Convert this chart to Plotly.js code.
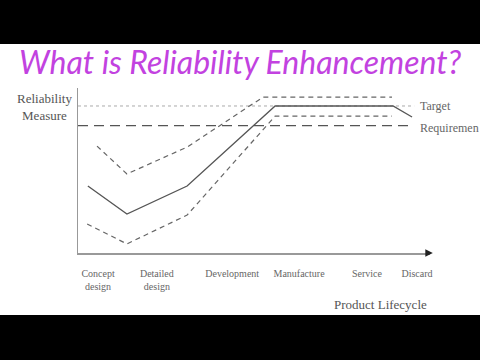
<!DOCTYPE html>
<html>
<head>
<meta charset="utf-8">
<script src="https://cdn.plot.ly/plotly-3.0.1.min.js"></script>
<style>html,body{margin:0;padding:0;background:#fff;}#chart{width:480px;height:360px;}</style>
</head>
<body>
<div id="chart"></div>
<script>
// Product lifecycle stages (tick positions along the lifecycle axis, 0-100)
const stages = ["Concept<br>design", "Detailed<br>design", "Development", "Manufacture", "Service", "Discard"];
const stagePos = [5.7, 22.4, 43.8, 62.8, 82.1, 96.3];

// Reliability measure curves (0-100 scale)
const solidX = [2.8, 13.9, 31, 56, 89.5, 94.9];
const solidY = [40.6, 23.6, 40.6, 89.1, 89.1, 82.4];
const upperX = [5.4, 13.9, 31, 52.6, 89.2];
const upperY = [64.8, 47.9, 64.2, 94.5, 94.5];
const lowerX = [2.6, 13.9, 31, 56, 89.2];
const lowerY = [17.6, 5.5, 23.0, 83.0, 83.0];

const targetLevel = 89.1;
const requirementLevel = 77.2;
const levelX = [0, 95.5];

const serif = "Liberation Serif, Times New Roman, serif";

const traces = [
  {x: levelX, y: [targetLevel, targetLevel], mode: "lines", line: {color: "#aaaaaa", width: 1, dash: "dot"}, hoverinfo: "skip"},
  {x: [0, 94.9], y: [requirementLevel, requirementLevel], mode: "lines", line: {color: "#555555", width: 1.3, dash: "10px,6px"}, hoverinfo: "skip"},
  {x: upperX, y: upperY, mode: "lines", line: {color: "#666666", width: 1.2, dash: "5px,4px"}},
  {x: lowerX, y: lowerY, mode: "lines", line: {color: "#666666", width: 1.2, dash: "5px,4px"}},
  {x: solidX, y: solidY, mode: "lines", line: {color: "#555555", width: 1.3}}
];

const layout = {
  width: 480, height: 360,
  margin: {l: 78, r: 50, t: 88, b: 107},
  paper_bgcolor: "#ffffff", plot_bgcolor: "#ffffff",
  showlegend: false,
  title: {
    text: "What is Reliability Enhancement?",
    font: {family: "Lato, Open Sans, sans-serif", size: 32, color: "#c242e0", style: "italic"},
    xref: "container", x: 0.5, xanchor: "center",
    yref: "container", y: 0.825, yanchor: "middle"
  },
  xaxis: {
    range: [0, 100], showgrid: false, zeroline: false,
    showline: true, linecolor: "#999999", linewidth: 1.5,
    ticks: "", tickvals: stagePos, ticktext: stages, ticklabelstandoff: 10,
    tickfont: {family: serif, size: 10, color: "#666666"},
    fixedrange: true
  },
  yaxis: {
    range: [0, 100], showgrid: false, zeroline: false,
    showline: true, linecolor: "#999999", linewidth: 1.5,
    ticks: "", showticklabels: false, fixedrange: true
  },
  shapes: [
    {type: "rect", xref: "paper", yref: "paper", x0: -0.3, x1: 1.2, y0: 1.267, y1: 1.6, fillcolor: "#000000", line: {width: 0}},
    {type: "rect", xref: "paper", yref: "paper", x0: -0.3, x1: 1.2, y0: -0.376, y1: -0.7, fillcolor: "#000000", line: {width: 0}}
  ],
  annotations: [
    {text: "Reliability<br>Measure", xref: "paper", yref: "paper", x: -0.094, y: 0.885, xanchor: "center", yanchor: "middle", showarrow: false, font: {family: serif, size: 13, color: "#555555"}},
    {text: "Target", xref: "paper", yref: "y", x: 0.966, y: targetLevel, xanchor: "left", yanchor: "middle", showarrow: false, font: {family: serif, size: 12, color: "#666666"}},
    {text: "Requiremen", xref: "paper", yref: "y", x: 0.966, y: requirementLevel, yshift: -2, xanchor: "left", yanchor: "middle", showarrow: false, font: {family: serif, size: 12, color: "#666666"}},
    {text: "Product Lifecycle", xref: "paper", yref: "paper", x: 0.858, y: -0.315, xanchor: "center", yanchor: "middle", showarrow: false, font: {family: serif, size: 13, color: "#555555"}},
    {text: "", xref: "paper", yref: "paper", x: 1.008, y: 0, ax: -8, ay: 0, showarrow: true, arrowhead: 2, arrowsize: 1, arrowwidth: 1.5, arrowcolor: "#222222"}
  ]
};

Plotly.newPlot("chart", traces, layout, {displayModeBar: false, staticPlot: true});
</script>
</body>
</html>
